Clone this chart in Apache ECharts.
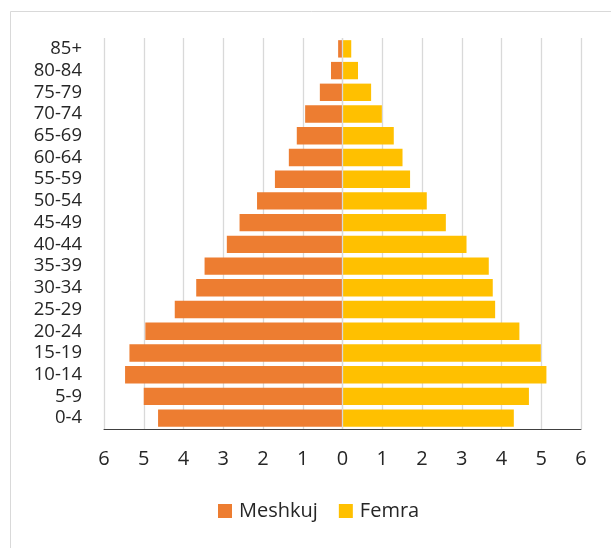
<!DOCTYPE html>
<html>
<head>
<meta charset="utf-8">
<script src="https://cdn.jsdelivr.net/npm/echarts@6/dist/echarts.min.js"></script>
<style>
  html, body { margin: 0; padding: 0; background: #fff; }
  #chart { width: 611px; height: 548px; }
</style>
</head>
<body>
<div id="chart"></div>
<script>
// grupmoshat, nga poshte lart
var ageGroups = ['0-4', '5-9', '10-14', '15-19', '20-24', '25-29', '30-34', '35-39', '40-44',
                 '45-49', '50-54', '55-59', '60-64', '65-69', '70-74', '75-79', '80-84', '85+'];
// perqindje (meshkujt ne anen e majte)
var meshkuj = [4.64, 5.00, 5.47, 5.36, 4.96, 4.22, 3.68, 3.47, 2.91,
               2.59, 2.15, 1.70, 1.35, 1.15, 0.94, 0.57, 0.29, 0.11];
var femra = [4.31, 4.69, 5.13, 4.99, 4.45, 3.84, 3.78, 3.68, 3.12,
             2.60, 2.12, 1.70, 1.51, 1.29, 0.99, 0.72, 0.39, 0.22];
var xTicks = [-6, 6, 1]; // min, max, interval

var fontName = '"Open Sans", "Noto Sans", sans-serif';
var myChart = echarts.init(document.getElementById('chart'));

var option = {
	animation: false,
	backgroundColor: '#fff',
	graphic: [{
		type: 'rect',
		left: 8, top: 9,
		shape: { width: 700, height: 700 },
		style: { fill: 'none', stroke: '#d9d9d9', lineWidth: 1 }
	}],
	legend: {
		bottom: 22,
		left: 213,
		itemWidth: 14,
		itemHeight: 14,
		itemGap: 21,
		icon: 'rect',
		textStyle: { fontFamily: fontName, fontSize: 20, color: '#262626', padding: [0, 0, 0, 2] },
		data: ['Meshkuj', 'Femra']
	},
	grid: { left: 104, right: 30, top: 38, bottom: 119 },
	xAxis: {
		type: 'value',
		min: xTicks[0],
		max: xTicks[1],
		interval: xTicks[2],
		axisLine: { show: true, lineStyle: { color: '#404040', width: 1 } },
		axisTick: { show: false },
		axisLabel: {
			margin: 20,
			fontFamily: fontName, fontSize: 20, color: '#262626',
			formatter: function (v) { return Math.abs(v); }
		},
		splitLine: { show: true, lineStyle: { color: '#d9d9d9', width: 1.3 } }
	},
	yAxis: {
		type: 'category',
		data: ageGroups,
		axisLine: { show: false },
		axisTick: { show: false },
		axisLabel: { interval: 0, margin: 22, fontFamily: fontName, fontSize: 18.5, color: '#262626' }
	},
	series: [
		{
			name: 'Meshkuj',
			type: 'bar',
			stack: 'pop',
			barCategoryGap: '20%',
			itemStyle: { color: '#ED7D31' },
			data: meshkuj.map(function (v) { return -v; }),
			markLine: {
				silent: true,
				symbol: 'none',
				label: { show: false },
				lineStyle: { color: '#d9d9d9', width: 1.3, type: 'solid' },
				data: [{ xAxis: 0 }]
			},
			z: 2
		},
		{
			name: 'Femra',
			type: 'bar',
			stack: 'pop',
			barCategoryGap: '20%',
			itemStyle: { color: '#FFC000' },
			data: femra,
			z: 2
		}
	]
};
myChart.setOption(option);
</script>
</body>
</html>
